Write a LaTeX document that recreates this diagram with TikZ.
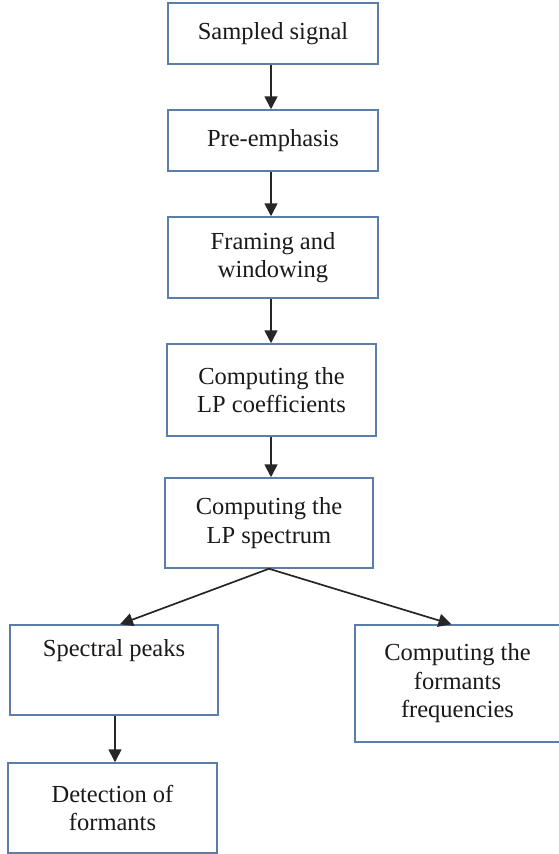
\documentclass[tikz,border=0pt]{standalone}
\usepackage{fontspec}
\setmainfont{Liberation Serif}
\usetikzlibrary{arrows.meta}
\definecolor{boxline}{HTML}{5B7DAA}
\definecolor{txt}{HTML}{1A1A1A}
\tikzset{
  box/.style={draw=boxline, line width=1.5pt, fill=white, align=center, text=txt,
    font=\fontsize{24.5}{28.5}\selectfont, inner sep=2pt},
  flow/.style={draw=black!85, line width=1.7pt, -{Triangle[length=13pt,width=13pt]}}
}
\begin{document}
\begin{tikzpicture}[x=1pt,y=-1pt]
\useasboundingbox (0,0) rectangle (558,854);
\node[box, minimum width=210pt, minimum height=61pt] (n1) at (273,33.5) {Sampled signal};
\node[box, minimum width=210pt, minimum height=61pt] (n2) at (273,140.5) {Pre-emphasis};
\node[box, minimum width=210pt, minimum height=81pt] (n3) at (273,257.5) {Framing and\\windowing};
\node[box, minimum width=209pt, minimum height=92pt] (n4) at (271.5,390) {Computing the\\LP coefficients};
\node[box, minimum width=208pt, minimum height=90pt] (n5) at (269,523) {Computing the\\LP spectrum};
\node[box, minimum width=208pt, minimum height=90pt,
  label={[font=\fontsize{24.5}{28.5}\selectfont, text=txt, anchor=north, yshift=-12pt]north:Spectral peaks}] (n6) at (114,670) {};
\node[box, minimum width=205pt, minimum height=117pt] (n7) at (457.5,683.5) {Computing the\\formants\\frequencies};
\node[box, minimum width=209pt, minimum height=90pt] (n8) at (112.5,808) {Detection of\\formants};
\draw[flow] (n1.south -| 271,0) -- (n2.north -| 271,0);
\draw[flow] (n2.south -| 271,0) -- (n3.north -| 271,0);
\draw[flow] (n3.south -| 271,0) -- (n4.north -| 271,0);
\draw[flow] (n4.south -| 271,0) -- (n5.north -| 271,0);
\draw[flow] (n5.south) -- ([xshift=6pt]n6.north);
\draw[flow] (n5.south) -- ([xshift=-6pt]n7.north);
\draw[flow] ([xshift=1pt]n6.south) -- ([xshift=1pt]n6.south |- n8.north);
\end{tikzpicture}
\end{document}
